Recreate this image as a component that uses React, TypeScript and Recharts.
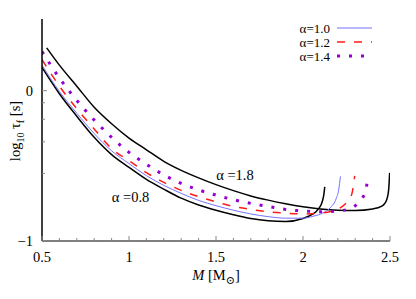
import { LineChart, Line, XAxis, YAxis, ReferenceDot, Legend } from "recharts";

// mass (M_sun) and log10 tau_f (s)
const m08 = [0.5, 0.6, 0.7, 0.8, 0.9, 1.0, 1.1, 1.2, 1.3, 1.4, 1.5, 1.6, 1.7, 1.8, 1.9, 2.0, 2.05, 2.09, 2.11, 2.12, 2.125];
const t08 = [0.155, -0.02, -0.17, -0.31, -0.425, -0.51, -0.59, -0.655, -0.715, -0.76, -0.795, -0.825, -0.85, -0.865, -0.87, -0.85, -0.825, -0.785, -0.74, -0.69, -0.64];

const m10 = [0.5, 0.6, 0.7, 0.8, 0.9, 1.0, 1.1, 1.2, 1.3, 1.4, 1.5, 1.6, 1.7, 1.8, 1.9, 2.0, 2.06, 2.12, 2.16, 2.19, 2.205, 2.215];
const t10 = [0.17, -0.005, -0.15, -0.285, -0.4, -0.485, -0.565, -0.63, -0.683, -0.73, -0.765, -0.795, -0.82, -0.838, -0.848, -0.848, -0.835, -0.81, -0.775, -0.72, -0.66, -0.57];

const m12 = [0.5, 0.6, 0.7, 0.8, 0.9, 1.0, 1.1, 1.2, 1.3, 1.4, 1.5, 1.6, 1.7, 1.8, 1.9, 2.0, 2.1, 2.17, 2.22, 2.26, 2.28, 2.29, 2.297];
const t12 = [0.207, 0.03, -0.12, -0.255, -0.385, -0.465, -0.545, -0.61, -0.663, -0.705, -0.74, -0.77, -0.79, -0.805, -0.815, -0.82, -0.815, -0.8, -0.775, -0.73, -0.69, -0.63, -0.567];

const m14 = [0.5, 0.6, 0.7, 0.8, 0.9, 1.0, 1.1, 1.2, 1.3, 1.4, 1.5, 1.6, 1.7, 1.8, 1.9, 2.0, 2.1, 2.2, 2.27, 2.31, 2.34, 2.36, 2.37];
const t14 = [0.26, 0.085, -0.065, -0.195, -0.31, -0.41, -0.49, -0.56, -0.617, -0.66, -0.695, -0.725, -0.75, -0.77, -0.79, -0.8, -0.805, -0.8, -0.785, -0.755, -0.715, -0.67, -0.598];

const m18 = [0.527, 0.6, 0.7, 0.8, 0.9, 1.0, 1.1, 1.2, 1.3, 1.4, 1.5, 1.6, 1.7, 1.8, 1.9, 2.0, 2.1, 2.2, 2.3, 2.4, 2.45, 2.47, 2.485, 2.493, 2.498];
const t18 = [0.285, 0.17, 0.03, -0.11, -0.22, -0.315, -0.393, -0.47, -0.53, -0.58, -0.625, -0.665, -0.7, -0.728, -0.752, -0.772, -0.787, -0.795, -0.797, -0.787, -0.77, -0.75, -0.71, -0.65, -0.547];

const xTicks = [0.5, 0.6, 0.7, 0.8, 0.9, 1.0, 1.1, 1.2, 1.3, 1.4, 1.5, 1.6, 1.7, 1.8, 1.9, 2.0, 2.1, 2.2, 2.3, 2.4, 2.5];
const yTicks = [-1, -0.55, -0.34, -0.19, -0.08, 0];
const yMajor = [-1, 0];

const legendItems = [
  { name: "α=1.0", color: "#7272ff", width: 1, dash: undefined },
  { name: "α=1.2", color: "#ff1a1a", width: 1.5, dash: "8 9" },
  { name: "α=1.4", color: "#9400d3", width: 3, dash: "3 9" },
];

const toRows = (ms: number[], ts: number[]) => ms.map((m, i) => ({ m, t: ts[i] }));

const FONT = '"Times New Roman", "Liberation Serif", "DejaVu Serif", serif';
const txt = { fontFamily: FONT };

const isMajorX = (v: number) => Math.abs(v * 2 - Math.round(v * 2)) < 1e-6;
const fmtX = (v: number) => (Number.isInteger(v) ? String(v) : v.toFixed(1));

const BottomTick = (props: any) => {
  const { x, y, payload } = props;
  const major = isMajorX(payload.value);
  return (
    <g>
      <line x1={x} x2={x} y1={y} y2={y - (major ? 5 : 3)} stroke="#888" />
      {major && (
        <text x={x} y={y + 21} textAnchor="middle" style={txt} fontSize={14.5} fill="#000">
          {fmtX(payload.value)}
        </text>
      )}
    </g>
  );
};

const TopTick = (props: any) => {
  const { x, y, payload } = props;
  const major = isMajorX(payload.value);
  return <line x1={x} x2={x} y1={y} y2={y + (major ? 5 : 3)} stroke="#888" />;
};

const LeftTick = (props: any) => {
  const { x, y, payload } = props;
  const major = yMajor.includes(payload.value);
  return (
    <g>
      <line x1={x} x2={x + (major ? 5 : 3)} y1={y} y2={y} stroke="#888" />
      {major && (
        <text x={x - 9} y={y + 5} textAnchor="end" style={txt} fontSize={14.5} fill="#000">
          {payload.value < 0 ? "−" + Math.abs(payload.value) : String(payload.value)}
        </text>
      )}
    </g>
  );
};

const RightTick = (props: any) => {
  const { x, y, payload } = props;
  const major = yMajor.includes(payload.value);
  return <line x1={x} x2={x - (major ? 5 : 3)} y1={y} y2={y} stroke="#888" />;
};

const XLabel = (props: any) => {
  const { viewBox } = props;
  const cx = viewBox.x + viewBox.width / 2;
  return (
    <text x={cx} y={viewBox.y + 39} textAnchor="middle" style={txt} fontSize={14.5} fill="#000">
      <tspan fontStyle="italic">M</tspan>
      <tspan> [M</tspan>
      <tspan dy={4} fontSize={11}>⊙</tspan>
      <tspan dy={-4}>]</tspan>
    </text>
  );
};

const YLabel = () => (
  <text x={0} y={0} transform="translate(20,131) rotate(-90)" textAnchor="middle" style={txt} fontSize={14.5} fill="#000">
    <tspan>log</tspan>
    <tspan dy={4} fontSize={10}>10</tspan>
    <tspan dy={-4}> τ</tspan>
    <tspan dy={4} fontSize={10}>f</tspan>
    <tspan dy={-4}> [s]</tspan>
  </text>
);

const Annotation = (text: string) => (props: any) => (
  <text x={props.cx} y={props.cy + 5} textAnchor="middle" style={txt} fontSize={14.5} fill="#000">
    {text}
  </text>
);

const LegendBox = () => (
  <svg width={130} height={48} style={{ display: "block" }}>
    {legendItems.map((it, i) => (
      <g key={it.name}>
        <text x={80} y={6 + i * 14 + 4.5} textAnchor="end" style={txt} fontSize={13} fill="#000">
          {it.name}
        </text>
        <line x1={87} x2={122} y1={6 + i * 14} y2={6 + i * 14} stroke={it.color} strokeWidth={it.width} strokeDasharray={it.dash} />
      </g>
    ))}
  </svg>
);

export default function App() {
  return (
    <div style={{ position: "absolute", left: 0, top: 0, background: "#fff" }}>
      <LineChart width={416} height={299} margin={{ top: 19, right: 26, bottom: 0, left: 0 }}>
        <XAxis
          dataKey="m"
          type="number"
          domain={[0.5, 2.5]}
          ticks={xTicks}
          interval={0}
          allowDataOverflow
          height={58}
          tickSize={0}
          tickMargin={0}
          tickLine={false}
          axisLine={{ stroke: "#555", strokeWidth: 1.5 }}
          tick={<BottomTick />}
          label={<XLabel />}
        />
        <XAxis
          xAxisId="top"
          orientation="top"
          dataKey="m"
          type="number"
          domain={[0.5, 2.5]}
          ticks={xTicks}
          interval={0}
          allowDataOverflow
          height={0}
          tickSize={0}
          tickMargin={0}
          tickLine={false}
          axisLine={{ stroke: "#888", strokeWidth: 1.5 }}
          tick={<TopTick />}
        />
        <YAxis
          type="number"
          domain={[-1, 0.477]}
          ticks={yTicks}
          interval={0}
          allowDataOverflow
          width={42}
          tickSize={0}
          tickMargin={0}
          tickLine={false}
          axisLine={{ stroke: "#000", strokeWidth: 1.5 }}
          tick={<LeftTick />}
          label={<YLabel />}
        />
        <YAxis
          yAxisId="right"
          orientation="right"
          type="number"
          domain={[-1, 0.477]}
          ticks={yTicks}
          interval={0}
          allowDataOverflow
          width={0}
          tickSize={0}
          tickMargin={0}
          tickLine={false}
          axisLine={{ stroke: "#000", strokeWidth: 1.5 }}
          tick={<RightTick />}
        />
        <Line data={toRows(m08, t08)} dataKey="t" type="monotoneX" stroke="#000" strokeWidth={1.5} dot={false} activeDot={false} isAnimationActive={false} />
        <Line data={toRows(m18, t18)} dataKey="t" type="monotoneX" stroke="#000" strokeWidth={1.5} dot={false} activeDot={false} isAnimationActive={false} />
        <Line data={toRows(m10, t10)} dataKey="t" type="monotoneX" stroke={legendItems[0].color} strokeWidth={1} dot={false} activeDot={false} isAnimationActive={false} />
        <Line data={toRows(m12, t12)} dataKey="t" type="monotoneX" stroke={legendItems[1].color} strokeWidth={1.5} strokeDasharray="8 9" dot={false} activeDot={false} isAnimationActive={false} />
        <Line data={toRows(m14, t14)} dataKey="t" type="monotoneX" stroke={legendItems[2].color} strokeWidth={3} strokeDasharray="3 9" dot={false} activeDot={false} isAnimationActive={false} />
        <ReferenceDot x={1.009} y={-0.707} r={0} shape={Annotation("α =0.8")} />
        <ReferenceDot x={1.609} y={-0.56} r={0} shape={Annotation("α =1.8")} />
        <Legend
          layout="vertical"
          align="center"
          verticalAlign="middle"
          wrapperStyle={{ top: 22, left: 250, width: 130, height: 48 }}
          content={() => <LegendBox />}
        />
      </LineChart>
    </div>
  );
}
